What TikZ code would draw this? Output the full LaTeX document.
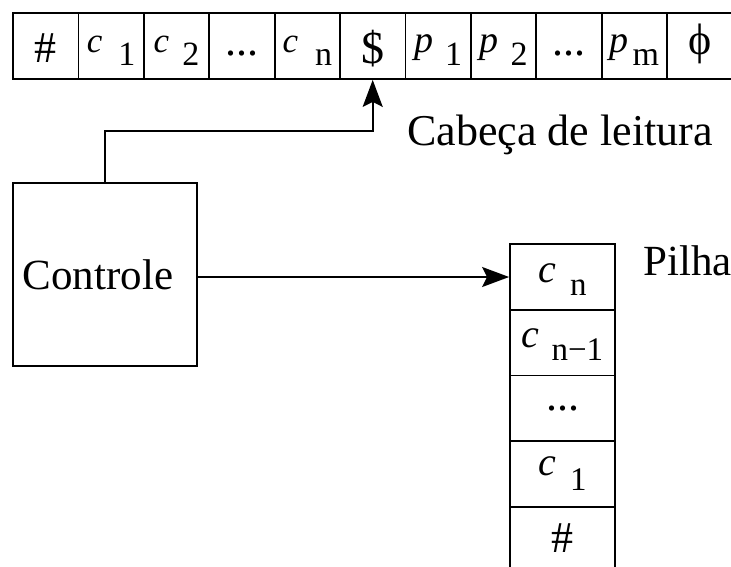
\documentclass[tikz,border=0pt]{standalone}
\usepackage{fontspec}
\setmainfont{Liberation Serif}
\usetikzlibrary{arrows.meta}
\newcommand{\fs}[1]{\fontsize{#1}{#1}\selectfont}
\newcommand{\tsym}[3]{{\fs{#1}\itshape #2}\kern#3}
\tikzset{
  ln/.style={line width=1.8pt},
  tapecell/.style={draw, ln, minimum width=65.4pt, minimum height=66pt, inner sep=0pt, text depth=0pt, text height=#1},
  stackcell/.style={draw, ln, minimum width=105pt, minimum height=65.6pt, inner sep=0pt, text depth=0pt, text height=#1},
  tip/.style={-{Stealth[length=27pt,width=20pt,inset=5pt]}},
  lbl/.style={inner sep=0pt, anchor=base west, font=\fs{44}}
}
\begin{document}
\begin{tikzpicture}[x=1pt,y=-1pt]
\useasboundingbox (0,0) rectangle (731,566);
% tape
\node[tapecell=32pt] (t1) at (45.7,46) {\fs{44}\#};
\node[tapecell=12pt] (t2) at (111.1,46) {\tsym{35}{c}{16pt}\raisebox{-13pt}{\fs{34}1}};
\node[tapecell=12pt] (t3) at (176.5,46) {\tsym{35}{c}{13pt}\raisebox{-13pt}{\fs{34}2}};
\node[tapecell=18pt] (t4) at (241.9,46) {\fs{44}...};
\node[tapecell=12pt] (t5) at (307.3,46) {\tsym{35}{c}{17pt}\raisebox{-13pt}{\fs{34}n}};
\node[tapecell=34pt] (t6) at (372.7,46) {\fs{46}\$};
\node[tapecell=12pt] (t7) at (438.1,46) {\tsym{38}{p}{12pt}\raisebox{-13pt}{\fs{34}1}};
\node[tapecell=12pt] (t8) at (503.5,46) {\tsym{38}{p}{12pt}\raisebox{-13pt}{\fs{34}2}};
\node[tapecell=18pt] (t9) at (568.9,46) {\fs{44}...};
\node[tapecell=12pt] (t10) at (634.3,46) {\tsym{38}{p}{4pt}\raisebox{-13pt}{\fs{34}m}};
\node[tapecell=16pt] (t11) at (699.7,46) {\fs{44}ϕ};
% control
\node[draw, ln, minimum width=184pt, minimum height=183pt, inner sep=0pt, font=\fs{43}] (ctrl) at (105,274.5) {Controle\kern14pt};
% stack
\node[stackcell=10pt] (s1) at (562.5,277) {\tsym{40}{c}{14pt}\raisebox{-13pt}{\fs{33}n}};
\node[stackcell=10pt] (s2) at (562.5,342.6) {\tsym{40}{c}{12pt}\raisebox{-13pt}{\fs{33}n−1}};
\node[stackcell=4pt] (s3) at (562.5,408.2) {\fs{44}...};
\node[stackcell=3pt] (s4) at (562.5,473.8) {\tsym{40}{c}{14pt}\raisebox{-15pt}{\fs{33}1}};
\node[stackcell=26pt] (s5) at (562.5,539.4) {\fs{44}\#};
% labels
\node[lbl] (head) at (407,145) {Cabeça de leitura};
\node[lbl, font=\fs{43}] (pilha) at (643,275) {Pilha};
% connectors
\draw[ln, tip] (ctrl.north) -- ++(0,-51.5) -| (t6.south);
\draw[ln, tip] (ctrl.east |- s1.west) -- (s1.west);
\end{tikzpicture}
\end{document}
